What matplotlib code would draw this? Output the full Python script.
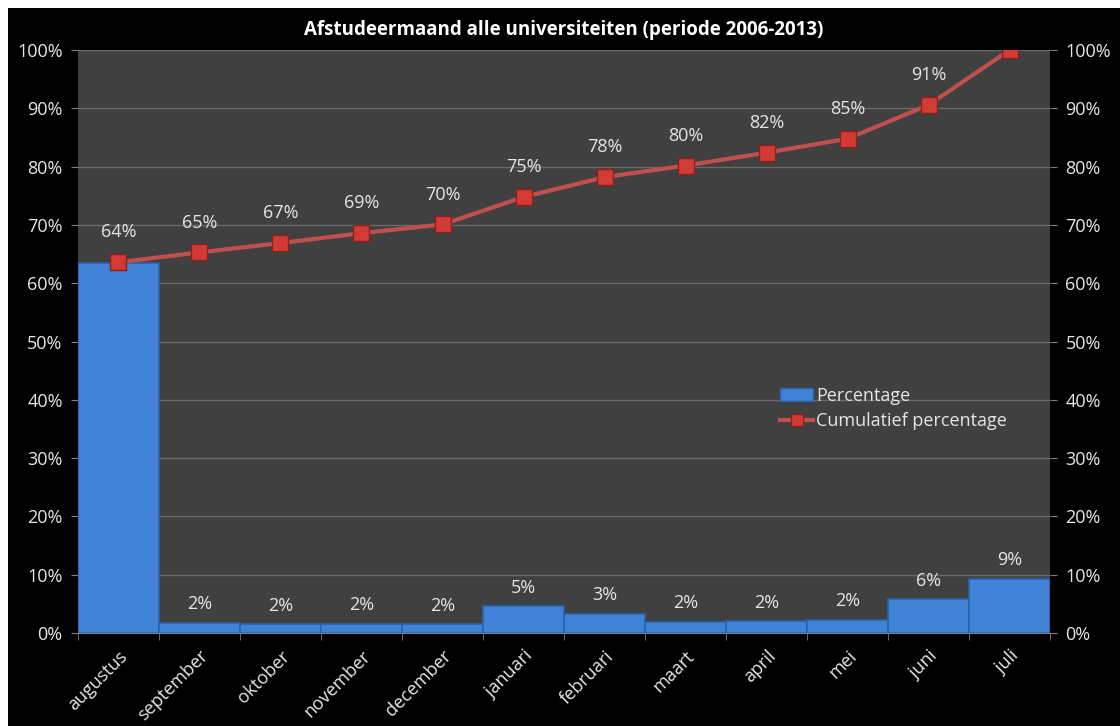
import matplotlib.pyplot as plt
import matplotlib.patches as mpatches
from matplotlib.lines import Line2D
from matplotlib.ticker import FuncFormatter, FixedLocator
import numpy as np

plt.rcParams['font.family'] = ['Open Sans', 'DejaVu Sans']

# data
months = ['augustus', 'september', 'oktober', 'november', 'december', 'januari',
          'februari', 'maart', 'april', 'mei', 'juni', 'juli']
percentage = [63.5, 1.7, 1.5, 1.6, 1.5, 4.6, 3.3, 1.9, 2.0, 2.3, 5.8, 9.3]
cumulative = [63.6, 65.3, 66.9, 68.6, 70.1, 74.8, 78.2, 80.2, 82.4, 84.8, 90.6, 100.0]
line_labels = ['64%', '65%', '67%', '69%', '70%', '75%', '78%', '80%', '82%', '85%', '91%', '']
bar_labels = ['', '2%', '2%', '2%', '2%', '5%', '3%', '2%', '2%', '2%', '6%', '9%']

BAR_COLOR = '#3f82d6'
LINE_COLOR = '#c0504d'
TXT = '#e6e6e6'

fig = plt.figure(figsize=(11.2, 7.26), dpi=100, facecolor='black')
# thin white strips at top and left of the screenshot
fig.add_artist(mpatches.Rectangle((0, 0.989), 1, 0.011, transform=fig.transFigure,
                                  facecolor='white', edgecolor='none', zorder=10))
fig.add_artist(mpatches.Rectangle((0, 0), 0.0075, 1, transform=fig.transFigure,
                                  facecolor='white', edgecolor='none', zorder=10))
ax = fig.add_axes([0.0696, 0.128, 0.868, 0.803])
ax.set_facecolor('#404040')

x = np.arange(len(months))
ax.bar(x, percentage, width=1.0, color=BAR_COLOR, edgecolor='#2a62ad', linewidth=1.2, zorder=2)
ax.plot(x, cumulative, color=LINE_COLOR, linewidth=3, marker='s', markersize=11,
        markerfacecolor='#d23a35', markeredgecolor='#8e1f1c', markeredgewidth=1, zorder=4)

for xi, v, lab in zip(x, cumulative, line_labels):
    if lab:
        ax.annotate(lab, (xi, v), xytext=(0, 15), textcoords='offset points',
                    ha='center', va='bottom', color=TXT, fontsize=13, zorder=5)
for xi, v, lab in zip(x, percentage, bar_labels):
    if lab:
        ax.annotate(lab, (xi, v), xytext=(0, 7), textcoords='offset points',
                    ha='center', va='bottom', color=TXT, fontsize=13, zorder=5)

ax.set_xlim(-0.5, len(months) - 0.5)
ax.set_ylim(0, 100)
ax.set_yticks(np.arange(0, 101, 10))
ax.yaxis.set_major_formatter(FuncFormatter(lambda v, p: f'{v:.0f}%'))
ax.grid(axis='y', color='#6a6a6a', linewidth=1, zorder=0)
ax.set_axisbelow(True)

ax.set_xticks(x)
ax.set_xticklabels(months, rotation=45, ha='right', rotation_mode='anchor')
ax.xaxis.set_minor_locator(FixedLocator(np.arange(-0.5, len(months), 1.0)))
ax.tick_params(axis='x', which='major', length=0, pad=10, labelcolor=TXT, labelsize=13)
ax.tick_params(axis='x', which='minor', length=5, color='#808080')
ax.tick_params(axis='y', length=5, color='#808080', labelcolor=TXT, labelsize=13,
               labelright=True, right=True, pad=6)
for s in ax.spines.values():
    s.set_visible(False)
ax.spines['bottom'].set_visible(True)
ax.spines['bottom'].set_color('#808080')

ax.set_title('Afstudeermaand alle universiteiten (periode 2006-2013)', color='white',
             fontsize=13.5, fontweight='bold', pad=11)

handles = [mpatches.Patch(facecolor=BAR_COLOR, edgecolor='#2a62ad', label='Percentage'),
           Line2D([0], [0], color=LINE_COLOR, linewidth=3, marker='s', markersize=9,
                  markerfacecolor='#d23a35', markeredgecolor='#8e1f1c',
                  label='Cumulatief percentage')]
leg = ax.legend(handles=handles, loc='upper left', bbox_to_anchor=(0.715, 0.435),
                frameon=False, fontsize=13, labelcolor=TXT, handlelength=1.8,
                handletextpad=0.2, borderaxespad=0, labelspacing=0.4)

fig.savefig('out.png', dpi=100, facecolor='black')
